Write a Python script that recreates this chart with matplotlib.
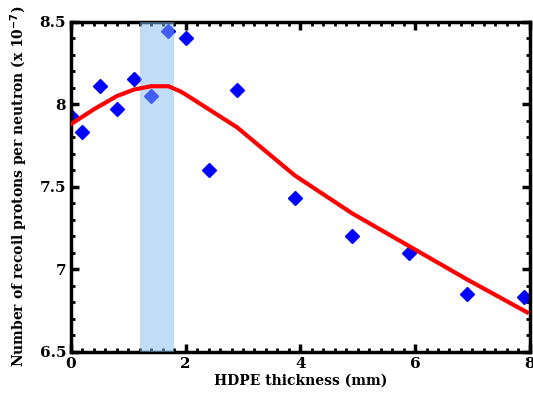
import matplotlib
matplotlib.use("Agg")
from matplotlib import pyplot as plt
from matplotlib.ticker import MultipleLocator

# measured points
thickness = [0.0, 0.2, 0.5, 0.8, 1.1, 1.4, 1.7, 2.0, 2.4, 2.9, 3.9, 4.9, 5.9, 6.9, 7.9]
protons = [7.93, 7.83, 8.11, 7.97, 8.155, 8.05, 8.445, 8.40, 7.60, 8.09, 7.43, 7.20, 7.10, 6.85, 6.83]

# fitted curve
fit_x = [0.0, 0.4, 0.8, 1.1, 1.4, 1.7, 1.9, 2.0, 2.9, 3.9, 4.9, 5.9, 6.9, 7.95]
fit_y = [7.88, 7.97, 8.05, 8.09, 8.11, 8.11, 8.08, 8.06, 7.86, 7.57, 7.34, 7.14, 6.94, 6.74]

band = (1.2, 1.8)

plt.rcParams["font.family"] = ["DejaVu Serif"]
plt.rcParams["font.weight"] = "bold"

fig = plt.figure(figsize=(5.33, 3.98), dpi=100)
ax = fig.add_axes([0.133, 0.116, 0.861, 0.829])

ax.plot(thickness, protons, linestyle="none", marker="D", markersize=7,
        color="#0000ff", zorder=2)
ax.axvspan(band[0], band[1], color="#85bdee", alpha=0.5, lw=0, zorder=3)
ax.plot(fit_x, fit_y, color="#ff0000", lw=3, zorder=4)

ax.set_xlim(0, 8)
ax.set_ylim(6.5, 8.5)
ax.xaxis.set_major_locator(MultipleLocator(2))
ax.xaxis.set_minor_locator(MultipleLocator(0.2))
ax.yaxis.set_major_locator(MultipleLocator(0.5))
ax.yaxis.set_minor_locator(MultipleLocator(0.1))
ax.set_yticks([6.5, 7, 7.5, 8, 8.5], ["6.5", "7", "7.5", "8", "8.5"])

for s in ax.spines.values():
    s.set_linewidth(2.5)
ax.tick_params(which="both", direction="in", top=True, right=True, labelsize=11)
ax.tick_params(which="major", length=6, width=2.5)
ax.tick_params(which="minor", length=3, width=2)

ax.set_xlabel("HDPE thickness (mm)", fontsize=10, fontweight="bold", labelpad=2)
ax.set_ylabel(r"Number of recoil protons per neutron (x 10$^{\mathbf{-7}}$)",
              fontsize=10, fontweight="bold")
ax.yaxis.set_label_coords(-0.09, 0.5)

fig.savefig("out.png", dpi=100)
